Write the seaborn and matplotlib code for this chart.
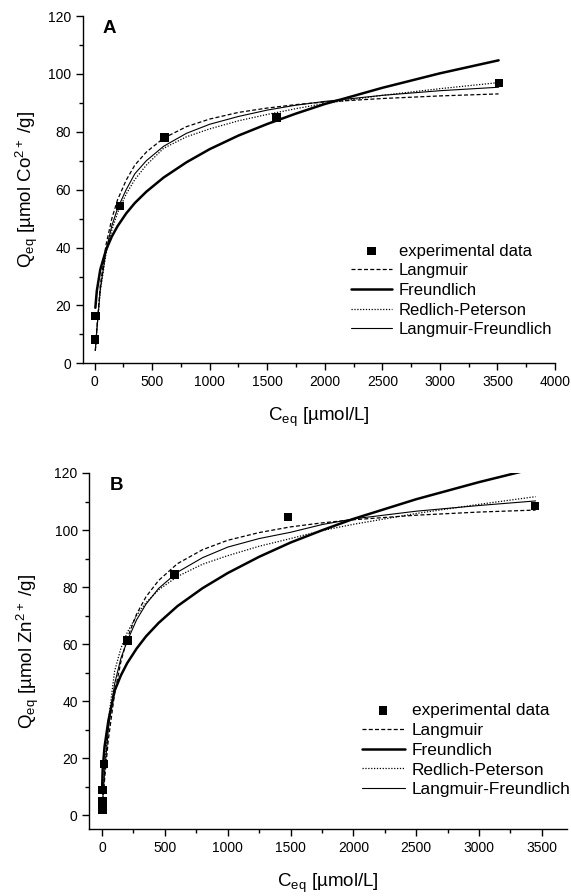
import matplotlib
matplotlib.use('Agg')
import matplotlib.pyplot as plt
from matplotlib.ticker import MultipleLocator
import seaborn as sns

# ---- panel A: Co2+ ----
a_exp_c = [4, 8, 220, 610, 1580, 3515]
a_exp_q = [8.3, 16.4, 54.4, 78.1, 85.0, 96.9]
a_fit_c = [7, 20, 50, 100, 150, 200, 275, 350, 450, 600, 800, 1000, 1250, 1500, 1750,
           2000, 2500, 3000, 3510]
a_langmuir = [4.3, 12.0, 27.0, 41.0, 50.0, 56.5, 63.3, 68.5, 73.0, 77.8, 81.8, 84.4,
              86.7, 88.2, 89.4, 90.3, 91.5, 92.4, 93.1]
a_freundlich = [19.2, 25.1, 32.4, 39.2, 43.8, 47.4, 51.8, 55.4, 59.3, 64.2, 69.5, 74.0,
                78.7, 82.7, 86.3, 89.6, 95.2, 100.2, 104.7]
a_redlich = [4.5, 11.5, 25.0, 38.0, 46.0, 52.0, 58.5, 63.5, 68.5, 74.3, 78.3, 81.0,
             83.8, 86.0, 88.0, 89.8, 92.6, 94.9, 97.0]
a_lf = [4.5, 11.5, 25.5, 39.0, 47.5, 53.5, 60.0, 65.5, 70.0, 75.0, 79.5, 82.6,
        85.3, 87.5, 89.2, 90.5, 92.6, 94.2, 95.4]

# ---- panel B: Zn2+ ----
b_exp_c = [3, 3, 5, 16, 201, 575, 1481, 3447]
b_exp_q = [1.8, 4.7, 8.8, 17.9, 61.3, 84.3, 104.6, 108.5]
b_fit_c = [1, 5, 20, 50, 100, 150, 200, 275, 350, 450, 600, 800, 1000, 1250, 1500,
           1750, 2000, 2500, 3000, 3450]
b_langmuir = [0.7, 3.4, 12.3, 26.4, 42.7, 53.8, 61.9, 70.5, 76.6, 82.3, 88.2, 93.1,
              96.4, 99.1, 101.1, 102.5, 103.6, 105.2, 106.3, 107.0]
b_freundlich = [10.0, 16.0, 24.0, 33.0, 43.6, 49.0, 53.3, 58.4, 62.7, 67.4, 73.3, 79.6,
                84.9, 90.6, 95.6, 99.9, 103.9, 110.8, 116.8, 121.7]
b_redlich = [2.0, 6.0, 17.0, 33.0, 50.5, 58.5, 64.0, 70.0, 74.5, 79.0, 83.7, 88.0,
             91.0, 94.3, 97.0, 99.8, 102.0, 105.8, 109.0, 111.7]
b_lf = [1.5, 5.0, 15.0, 30.0, 46.0, 55.0, 61.0, 68.5, 74.0, 79.5, 85.2, 90.3,
        94.0, 97.0, 99.2, 101.9, 103.9, 106.6, 108.6, 110.2]

model_names = ['Langmuir', 'Freundlich', 'Redlich-Peterson', 'Langmuir-Freundlich']
model_styles = {
    'Langmuir': dict(linestyle=(0, (3.2, 1.8)), linewidth=0.9),
    'Freundlich': dict(linestyle='-', linewidth=1.8),
    'Redlich-Peterson': dict(linestyle=(0, (1, 1.3)), linewidth=0.9),
    'Langmuir-Freundlich': dict(linestyle='-', linewidth=0.8),
}

sns.set_theme(style='ticks')
plt.rcParams['font.family'] = ['Liberation Sans', 'DejaVu Sans']
plt.rcParams['mathtext.fontset'] = 'custom'
plt.rcParams['mathtext.rm'] = 'Liberation Sans'
plt.rcParams['mathtext.it'] = 'Liberation Sans:italic'
plt.rcParams['mathtext.bf'] = 'Liberation Sans:bold'
for key in ['text.color', 'axes.labelcolor', 'xtick.color', 'ytick.color', 'axes.edgecolor']:
    plt.rcParams[key] = 'black'


def draw_panel(ax, exp_c, exp_q, fit_c, fits, letter, ion, legend_pos, legend_size, ypad):
    sns.scatterplot(x=exp_c, y=exp_q, ax=ax, marker='s', s=38, color='black',
                    edgecolor='none', label='experimental data', zorder=3)
    for name, vals in zip(model_names, fits):
        sns.lineplot(x=fit_c, y=vals, ax=ax, color='black', label=name,
                     sort=False, estimator=None, **model_styles[name])

    handles, labels = ax.get_legend_handles_labels()
    order = [labels.index('experimental data')] + [labels.index(n) for n in model_names]
    ax.legend([handles[i] for i in order], [labels[i] for i in order],
              loc='upper left', bbox_to_anchor=legend_pos, frameon=False,
              borderpad=0, borderaxespad=0, handlelength=2.5, handletextpad=0.4,
              labelspacing=0.28, fontsize=legend_size)

    ax.set_xlabel(r'C$_{\mathrm{eq}}$ [µmol/L]', fontsize=13.5, labelpad=12)
    ax.set_ylabel(r'Q$_{\mathrm{eq}}$ [µmol ' + ion + ' /g]', fontsize=13.5, labelpad=ypad)
    ax.text(0.042, 0.965, letter, transform=ax.transAxes, fontsize=13.5,
            fontweight='bold', va='center', ha='left')

    ax.yaxis.set_major_locator(MultipleLocator(20))
    ax.yaxis.set_minor_locator(MultipleLocator(10))
    ax.xaxis.set_major_locator(MultipleLocator(500))
    ax.xaxis.set_minor_locator(MultipleLocator(250))
    ax.tick_params(which='major', direction='out', length=5, width=1, labelsize=10,
                   colors='black')
    ax.tick_params(which='minor', direction='out', length=3, width=1)
    for s in ['left', 'bottom']:
        ax.spines[s].set_linewidth(1.0)
        ax.spines[s].set_color('black')
    sns.despine(ax=ax)


fig = plt.figure(figsize=(5.71, 8.96), dpi=100)
ax_a = fig.add_axes([0.1454, 0.5945, 0.8266, 0.3876])
ax_b = fig.add_axes([0.1567, 0.0744, 0.8363, 0.3977])

draw_panel(ax_a, a_exp_c, a_exp_q, a_fit_c,
           [a_langmuir, a_freundlich, a_redlich, a_lf],
           'A', r'Co$^{\mathrm{2+}}$', (0.567, 0.345), 12, 6)
ax_a.set_xlim(-100, 4000)
ax_a.set_ylim(0, 120)

draw_panel(ax_b, b_exp_c, b_exp_q, b_fit_c,
           [b_langmuir, b_freundlich, b_redlich, b_lf],
           'B', r'Zn$^{\mathrm{2+}}$', (0.570, 0.355), 12.4, 9.5)
ax_b.set_xlim(-100, 3700)
ax_b.set_ylim(-5, 120)

fig.savefig('out.png', dpi=100)
